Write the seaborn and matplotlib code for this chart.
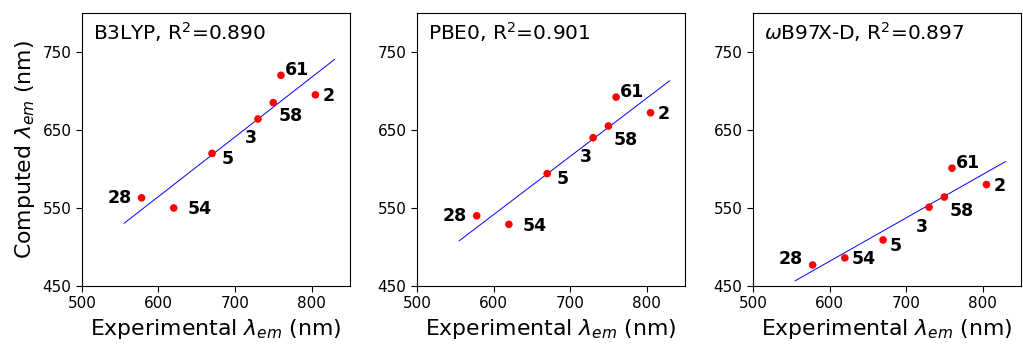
import numpy as np
import pandas as pd
import matplotlib
matplotlib.use("Agg")
import matplotlib.pyplot as plt
import seaborn as sns

labels = ["28", "54", "5", "3", "58", "61", "2"]
experimental = [578, 620, 670, 730, 750, 760, 805]
b3lyp = [563, 550, 620, 664, 685, 720, 695]
pbe0 = [540, 529, 594, 640, 655, 692, 672]
wb97xd = [477, 486, 509, 551, 564, 601, 580]
titles = ["B3LYP, R$^2$=0.890", "PBE0, R$^2$=0.901", r"$\omega$B97X-D, R$^2$=0.897"]
xticks = [500, 600, 700, 800]
yticks = [450, 550, 650, 750]

sns.set_style("ticks")
plt.rcParams["font.family"] = ["DejaVu Sans"]
plt.rcParams.update({"text.color": "black", "axes.labelcolor": "black",
                     "xtick.color": "black", "ytick.color": "black",
                     "axes.edgecolor": "black"})

fig = plt.figure(figsize=(10.23, 3.44), dpi=100)
lefts = [0.080, 0.4076, 0.736]
series = [b3lyp, pbe0, wb97xd]

# label offsets in points (dx, dy, ha)
offsets = {
    "28": (-7, 0, "right"),
    "54": (10, -1, "left"),
    "5": (7, -4, "left"),
    "3": (-1, -14, "right"),
    "58": (4, -10, "left"),
    "61": (3, 4, "left"),
    "2": (5, -1, "left"),
}
offsets3 = dict(offsets)
offsets3["28"] = (-7, 4, "right")
offsets3["54"] = (5, -1, "left")
offsets3["5"] = (5, -4, "left")

for i, (yv, title) in enumerate(zip(series, titles)):
    ax = fig.add_axes([lefts[i], 0.1686, 0.262, 0.794])
    df = pd.DataFrame({"x": experimental, "y": yv, "label": labels})
    slope, intercept = np.polyfit(df["x"], df["y"], 1)
    xl = np.array([555, 830])
    ax.plot(xl, slope * xl + intercept, color="blue", lw=0.7)
    sns.scatterplot(data=df, x="x", y="y", color="red", s=30, edgecolor="none", ax=ax, zorder=3)
    offs = offsets3 if i == 2 else offsets
    for _, r in df.iterrows():
        dx, dy, ha = offs[r["label"]]
        ax.annotate(r["label"], (r["x"], r["y"]), xytext=(dx, dy), textcoords="offset points",
                    ha=ha, va="center", fontsize=12.5, fontweight="bold", color="black")
    ax.set_xlim(500, 850)
    ax.set_ylim(450, 800)
    ax.set_xticks(xticks)
    ax.set_yticks(yticks)
    ax.tick_params(labelsize=11, direction="out", length=4, colors="black")
    for s in ax.spines.values():
        s.set_visible(True)
        s.set_color("black")
    ax.text(0.04, 0.975, title, transform=ax.transAxes, ha="left", va="top", fontsize=14.5, color="black")
    ax.set_xlabel(r"Experimental $\lambda_{em}$ (nm)", fontsize=15.8, color="black")
    if i == 0:
        ax.set_ylabel(r"Computed $\lambda_{em}$ (nm)", fontsize=15.8, color="black")
    else:
        ax.set_ylabel("")

fig.savefig("out.png", dpi=100)
